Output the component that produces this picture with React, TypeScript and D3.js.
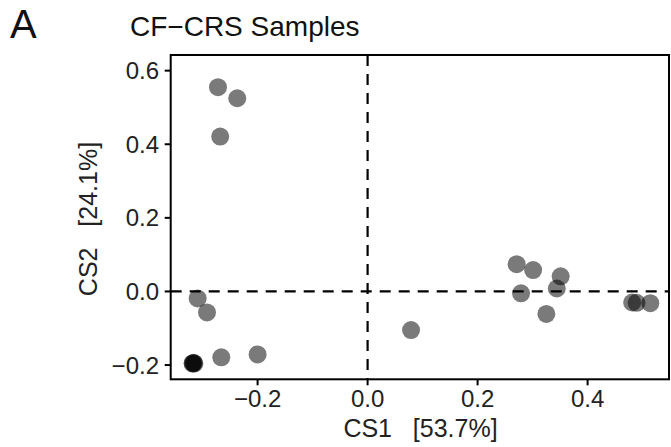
import React from 'react'
import * as d3 from 'd3'

// sample scores on the first two canonical axes
const cs1 = [-0.272, -0.237, -0.268, -0.309, -0.292, -0.318, -0.316, -0.318, -0.315, -0.266, -0.2, 0.079,
  0.271, 0.301, 0.279, 0.351, 0.344, 0.325, 0.481, 0.489, 0.514]
const cs2 = [0.555, 0.525, 0.421, -0.019, -0.057, -0.196, -0.194, -0.195, -0.196, -0.179, -0.171, -0.105,
  0.074, 0.058, -0.005, 0.041, 0.008, -0.061, -0.03, -0.031, -0.032]

const xTicks = [-0.2, 0, 0.2, 0.4]
const yTicks = [-0.2, 0, 0.2, 0.4, 0.6]

const title = 'CF\u2212CRS Samples'
const xLabel = 'CS1   [53.7%]'
const yLabel = 'CS2   [24.1%]'

const left = 170.7, right = 669, top = 55, bottom = 379.3
const font = '"Liberation Sans", Arial, Helvetica, sans-serif'

export default function App() {
  const x = d3.scaleLinear().domain([-0.358, 0.548]).range([left, right])
  const y = d3.scaleLinear().domain([-0.2387, 0.6425]).range([bottom, top])
  const fmt = d3.format('.1f')

  return (
    <svg width={671} height={447} style={{ position: 'absolute', left: 0, top: 0, background: '#fff' }}
      fontFamily={font}>
      <text x={10} y={38} fontSize={40} fill="#111">A</text>
      <text x={130} y={36} fontSize={28} fill="#111">{title}</text>

      {cs1.map((d, i) => (
        <circle key={i} cx={x(d)} cy={y(cs2[i])} r={9} fill="#000" fillOpacity={0.52} />
      ))}

      <line x1={left} x2={right} y1={y(0)} y2={y(0)} stroke="#000" strokeWidth={2.2} strokeDasharray="11 8" />
      <line x1={x(0)} x2={x(0)} y1={top} y2={bottom} stroke="#000" strokeWidth={2.2} strokeDasharray="11 8" />

      <rect x={left} y={top} width={right - left} height={bottom - top} fill="none" stroke="#000" strokeWidth={2} />

      {xTicks.map(t => (
        <g key={t}>
          <line x1={x(t)} x2={x(t)} y1={bottom} y2={bottom + 6} stroke="#000" strokeWidth={2} />
          <text x={x(t)} y={407} textAnchor="middle" fontSize={24} fill="#222">{fmt(t)}</text>
        </g>
      ))}
      {yTicks.map(t => (
        <g key={t}>
          <line x1={left - 6} x2={left} y1={y(t)} y2={y(t)} stroke="#000" strokeWidth={2} />
          <text x={159} y={y(t)} dy="0.36em" textAnchor="end" fontSize={24} fill="#222">{fmt(t)}</text>
        </g>
      ))}

      <text x={420.5} y={437} textAnchor="middle" fontSize={25} fill="#222" style={{ whiteSpace: 'pre' }}>{xLabel}</text>
      <text transform="translate(97,219) rotate(-90)" textAnchor="middle" fontSize={25} fill="#222"
        style={{ whiteSpace: 'pre' }}>{yLabel}</text>
    </svg>
  )
}
